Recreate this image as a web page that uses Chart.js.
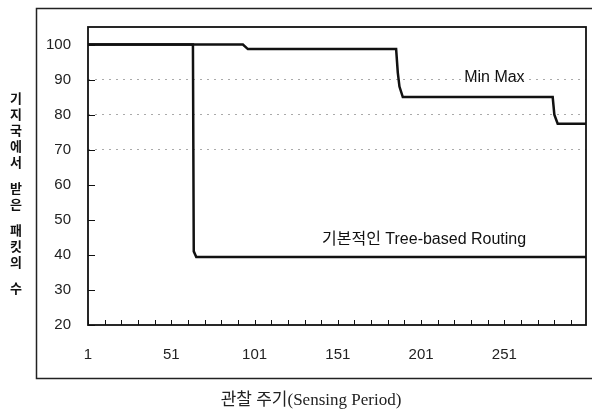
<!DOCTYPE html>
<html>
<head>
<meta charset="utf-8">
<script src="https://cdn.jsdelivr.net/npm/chart.js@4/dist/chart.umd.min.js"></script>
<style>
  html, body { margin: 0; padding: 0; background: #fff; }
  #wrap { width: 592px; height: 409px; position: relative; }
</style>
</head>
<body>
<div id="wrap"><canvas id="c" width="592" height="409"></canvas></div>
<script>
// ---- data ----
const minMaxPeriods = [1, 94, 97, 186, 187, 188, 190, 280, 281, 283, 300];
const minMaxValues  = [100, 100, 98.7, 98.7, 92, 88, 85, 85, 80, 77.4, 77.4];
const treePeriods   = [1, 64, 64.5, 66, 300];
const treeValues    = [100, 100, 41, 39.4, 39.4];
const yTickValues   = [20, 30, 40, 50, 60, 70, 80, 90, 100];
const yGridValues   = [70, 80, 90];
const xTickLabels   = [1, 51, 101, 151, 201, 251];
const xMinorTicks   = [1, 11, 21, 31, 41, 51, 61, 71, 81, 91, 101, 111, 121, 131, 141, 151, 161, 171, 181, 191, 201, 211, 221, 231, 241, 251, 261, 271, 281, 291];
const seriesNames   = ['Min Max', '기본적인 Tree-based Routing'];
const seriesLabelPos = [{x: 245, y: 90.5, align: 'center'}, {x: 141.5, y: 44.5, align: 'left'}];
const yTitle = '기지국에서 받은 패킷의 수';
const xTitle = '관찰 주기(Sensing Period)';

const toPoints = (xs, ys) => xs.map((x, i) => ({x: x, y: ys[i]}));

const decor = {
  id: 'decor',
  afterDatasetsDraw(chart) {
    const ctx = chart.ctx;
    const a = chart.chartArea;
    const xs = chart.scales.x, ys = chart.scales.y;
    ctx.save();
    // outer frame
    ctx.strokeStyle = '#222';
    ctx.lineWidth = 1.5;
    ctx.beginPath();
    ctx.moveTo(600, 8.5); ctx.lineTo(36.5, 8.5); ctx.lineTo(36.5, 378.5); ctx.lineTo(600, 378.5);
    ctx.stroke();
    // plot frame
    ctx.lineWidth = 1.8;
    ctx.strokeStyle = '#111';
    ctx.strokeRect(a.left, a.top, a.right - a.left, a.bottom - a.top);
    // inward ticks
    ctx.lineWidth = 1;
    ctx.beginPath();
    yTickValues.forEach(v => {
      const py = Math.round(ys.getPixelForValue(v)) + 0.5;
      ctx.moveTo(a.left, py); ctx.lineTo(a.left + 7, py);
    });
    xMinorTicks.forEach(v => {
      const px = Math.round(xs.getPixelForValue(v)) + 0.5;
      ctx.moveTo(px, a.bottom); ctx.lineTo(px, a.bottom - 5);
    });
    ctx.stroke();
    // series labels
    ctx.fillStyle = '#111';
    ctx.font = '16px "Liberation Sans", "Noto Sans CJK KR", sans-serif';
    ctx.textBaseline = 'middle';
    seriesNames.forEach((name, i) => {
      const p = seriesLabelPos[i];
      ctx.textAlign = p.align;
      ctx.fillText(name, xs.getPixelForValue(p.x), ys.getPixelForValue(p.y));
    });
    // stacked vertical y title
    ctx.font = 'bold 13px "Noto Sans CJK KR", sans-serif';
    ctx.textAlign = 'center';
    let y = 98;
    for (const ch of yTitle) {
      if (ch === ' ') { y += 10; continue; }
      ctx.fillText(ch, 16, y);
      y += 16;
    }
    // x title
    ctx.font = '17px "Liberation Serif", "Noto Sans CJK KR", serif';
    ctx.fillStyle = '#222';
    ctx.textAlign = 'center';
    ctx.fillText(xTitle, 311, 401);
    ctx.restore();
  }
};

new Chart(document.getElementById('c'), {
  type: 'line',
  data: {
    datasets: [
      { label: seriesNames[0], data: toPoints(minMaxPeriods, minMaxValues), borderColor: '#111', borderWidth: 2.5, pointRadius: 0, tension: 0, fill: false },
      { label: seriesNames[1], data: toPoints(treePeriods, treeValues), borderColor: '#111', borderWidth: 2.5, pointRadius: 0, tension: 0, fill: false }
    ]
  },
  options: {
    responsive: false,
    animation: false,
    layout: { padding: { left: 36, top: 27, right: 6, bottom: 0 } },
    plugins: { legend: { display: false }, tooltip: { enabled: false } },
    scales: {
      x: {
        type: 'linear', min: 1, max: 300,
        afterBuildTicks: s => { s.ticks = xTickLabels.map(v => ({value: v})); },
        afterFit: s => { s.height = 84; },
        grid: { display: false, drawTicks: false },
        border: { display: false },
        ticks: { padding: 21, color: '#222', font: { family: '"Liberation Sans", Arial, sans-serif', size: 15 }, maxRotation: 0, autoSkip: false },
        title: { display: false, text: xTitle }
      },
      y: {
        type: 'linear', min: 20, max: 105,
        afterBuildTicks: s => { s.ticks = yTickValues.map(v => ({value: v})); },
        afterFit: s => { s.width = 52; },
        grid: {
          drawTicks: false,
          color: c => (c.tick && yGridValues.includes(c.tick.value)) ? '#aaaaaa' : 'rgba(0,0,0,0)',
          lineWidth: 1
        },
        border: { display: false, dash: [2, 5] },
        ticks: { padding: 17, color: '#222', font: { family: '"Liberation Sans", Arial, sans-serif', size: 15 } }
      }
    }
  },
  plugins: [decor]
});
</script>
</body>
</html>
